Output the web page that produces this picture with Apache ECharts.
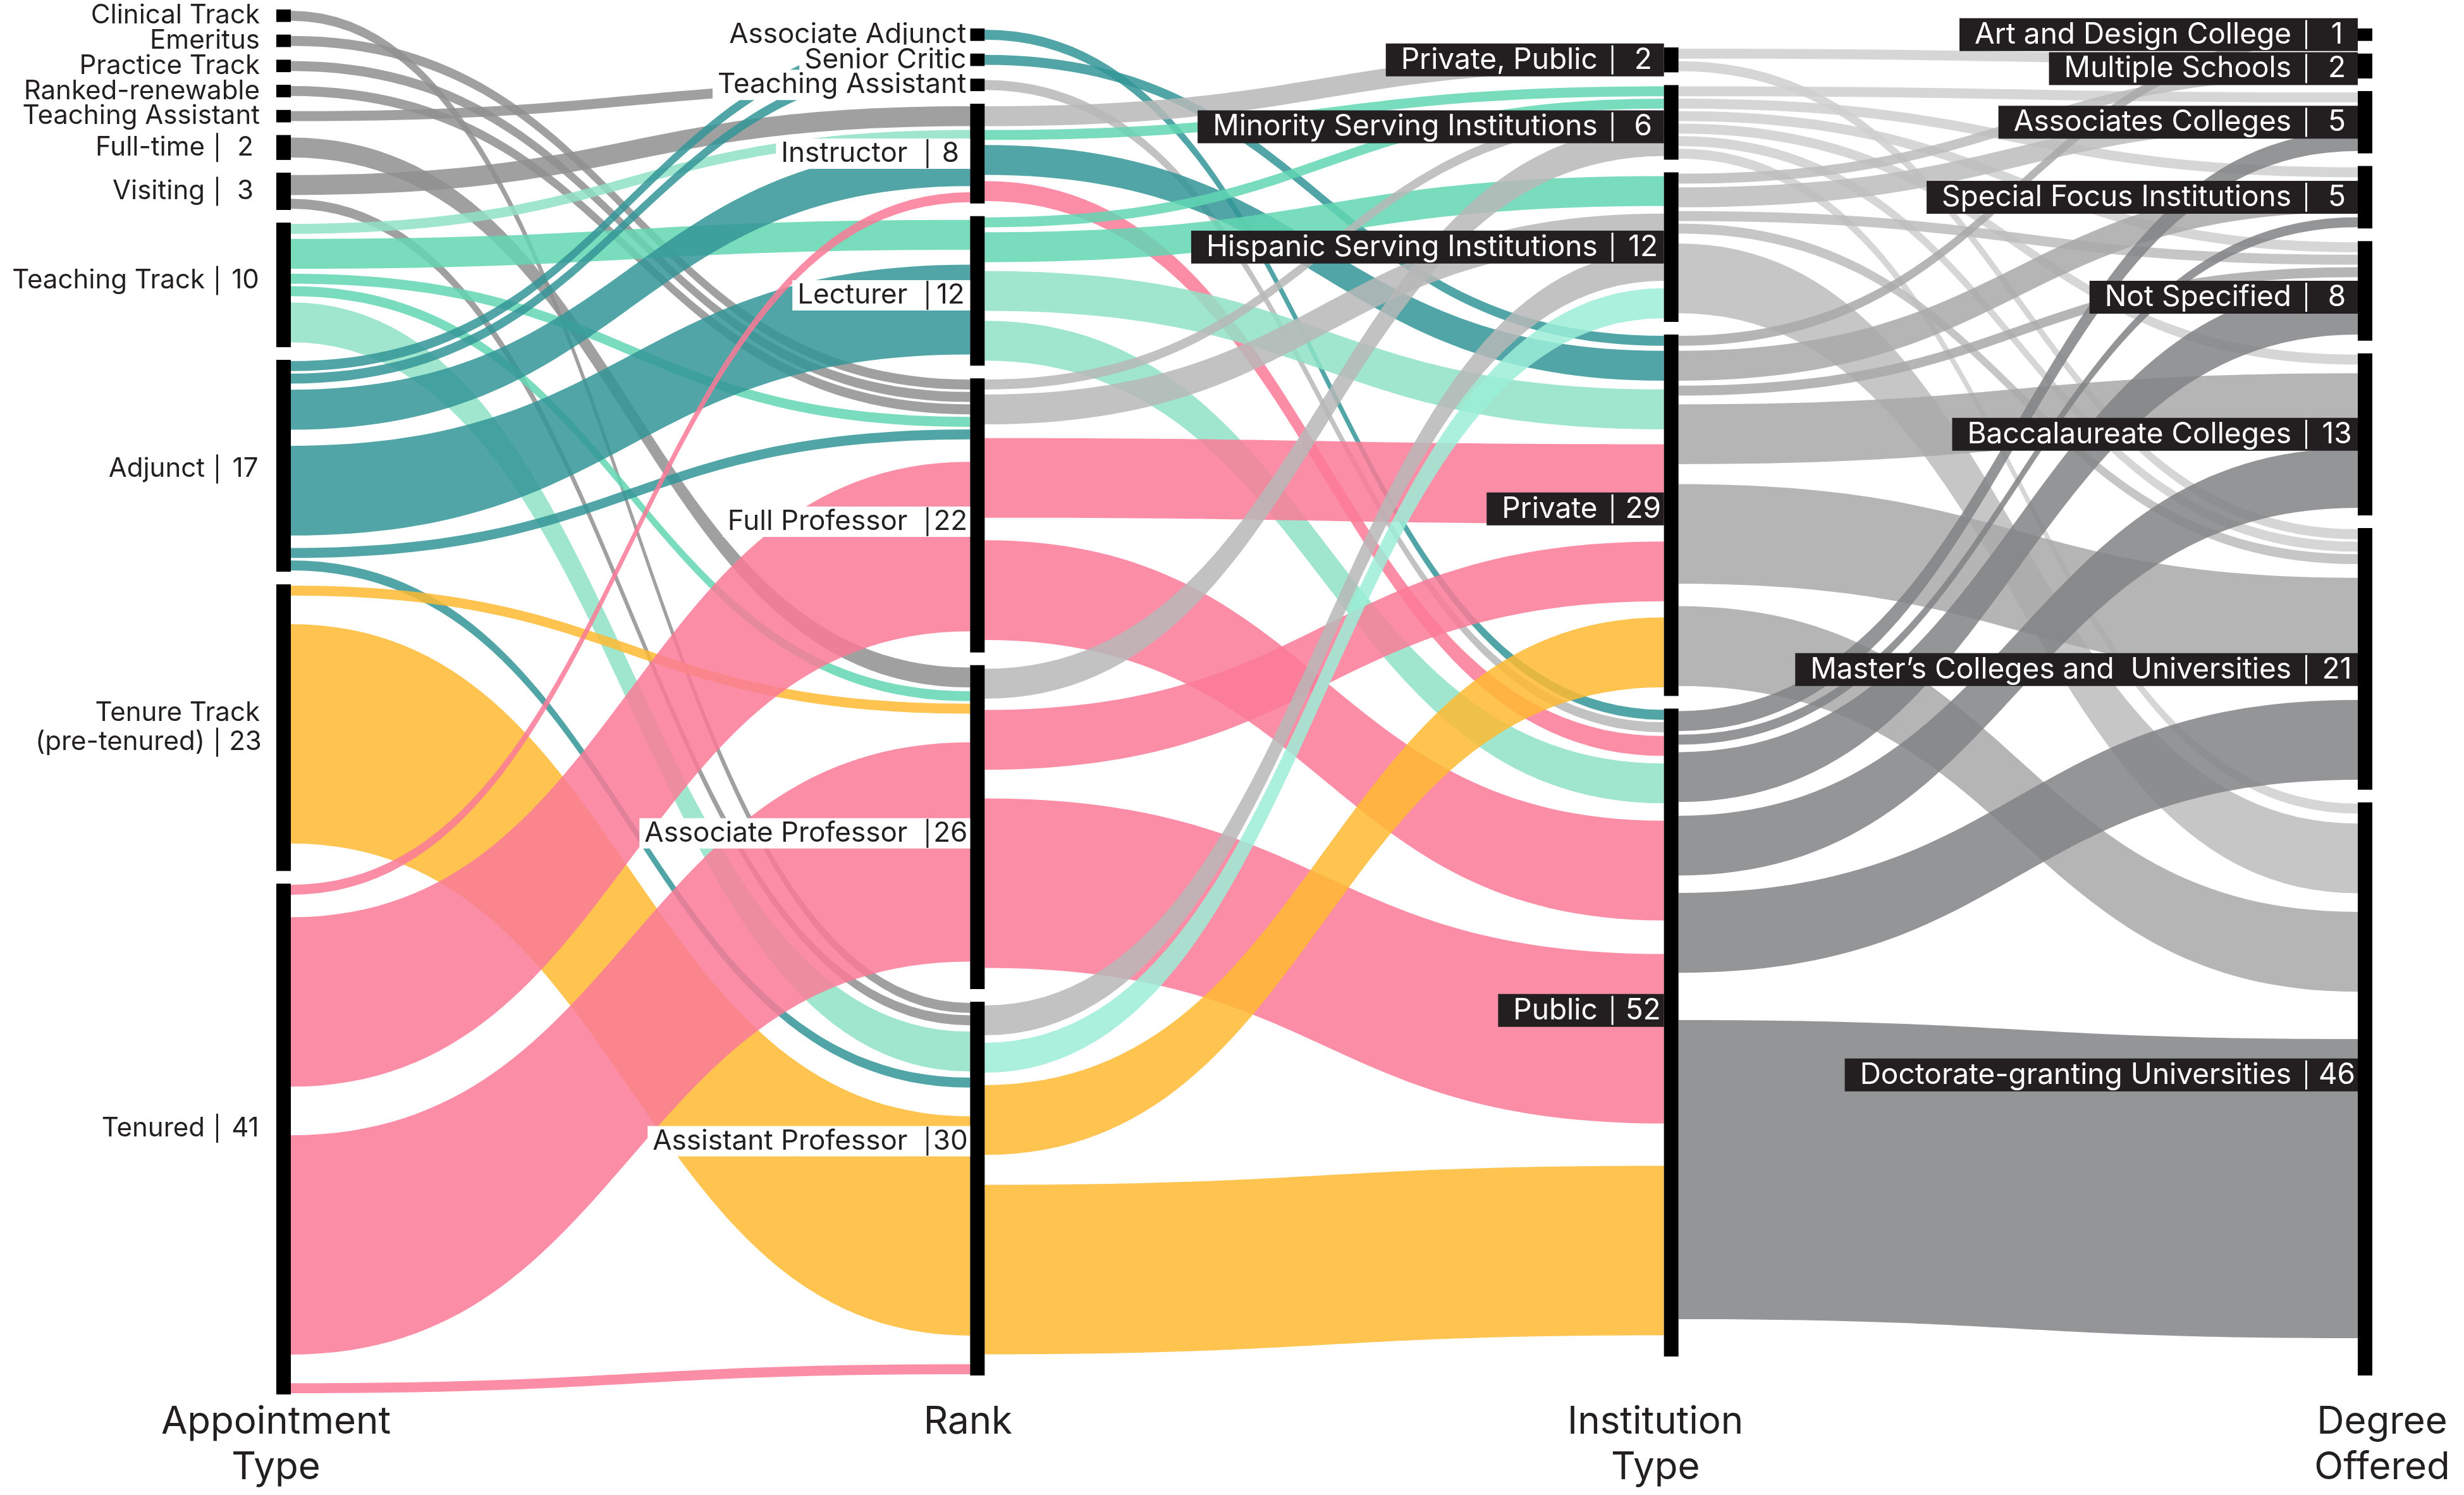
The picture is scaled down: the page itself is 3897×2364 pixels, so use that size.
<!DOCTYPE html>
<html>
<head>
<meta charset="utf-8">
<script src="https://cdn.jsdelivr.net/npm/echarts@6/dist/echarts.min.js"></script>
<style>
html,body{margin:0;padding:0;background:#ffffff;}
#chart{width:3897px;height:2364px;}
</style>
</head>
<body>
<div id="chart"></div>
<script>
// ---------------- DATA ----------------
const appointmentTypes = ['Clinical Track','Emeritus','Practice Track','Ranked-renewable','Teaching Assistant','Full-time','Visiting','Teaching Track','Adjunct','Tenure Track (pre-tenured)','Tenured'];
const appointmentTotals = [1,1,1,1,1,2,3,10,17,23,41];

const ranks = ['Associate Adjunct','Senior Critic','Teaching Assistant','Instructor','Lecturer','Full Professor','Associate Professor','Assistant Professor'];
const rankTotals = [1,1,1,8,12,22,26,30];

const institutionTypes = ['Private, Public','Minority Serving Institutions','Hispanic Serving Institutions','Private','Public'];
const institutionTotals = [2,6,12,29,52];

const degreesOffered = ['Art and Design College','Multiple Schools','Associates Colleges','Special Focus Institutions','Not Specified','Baccalaureate Colleges','Master’s Colleges and  Universities','Doctorate-granting Universities'];
const degreeTotals = [1,2,5,5,8,13,21,46];

const columnTitles = ['Appointment\nType','Rank','Institution\nType','Degree\nOffered'];

// Appointment Type -> Rank
const appointmentToRank = [
  ['Clinical Track','Assistant Professor',1],
  ['Emeritus','Full Professor',1],
  ['Practice Track','Full Professor',1],
  ['Ranked-renewable','Full Professor',1],
  ['Teaching Assistant','Teaching Assistant',1],
  ['Full-time','Associate Professor',2],
  ['Visiting','Instructor',2],
  ['Visiting','Assistant Professor',1],
  ['Teaching Track','Instructor',1],
  ['Teaching Track','Lecturer',3],
  ['Teaching Track','Full Professor',1],
  ['Teaching Track','Associate Professor',1],
  ['Teaching Track','Assistant Professor',4],
  ['Adjunct','Associate Adjunct',1],
  ['Adjunct','Senior Critic',1],
  ['Adjunct','Instructor',4],
  ['Adjunct','Lecturer',9],
  ['Adjunct','Full Professor',1],
  ['Adjunct','Assistant Professor',1],
  ['Tenure Track (pre-tenured)','Associate Professor',1],
  ['Tenure Track (pre-tenured)','Assistant Professor',22],
  ['Tenured','Instructor',1],
  ['Tenured','Full Professor',17],
  ['Tenured','Associate Professor',22],
  ['Tenured','Assistant Professor',1]
];

// Rank -> Institution Type
const rankToInstitution = [
  ['Associate Adjunct','Public',1],
  ['Senior Critic','Private',1],
  ['Teaching Assistant','Public',1],
  ['Instructor','Private, Public',2],
  ['Instructor','Minority Serving Institutions',1],
  ['Instructor','Private',3],
  ['Instructor','Public',2],
  ['Lecturer','Minority Serving Institutions',1],
  ['Lecturer','Hispanic Serving Institutions',3],
  ['Lecturer','Private',4],
  ['Lecturer','Public',4],
  ['Full Professor','Minority Serving Institutions',1],
  ['Full Professor','Hispanic Serving Institutions',3],
  ['Full Professor','Private',8],
  ['Full Professor','Public',10],
  ['Associate Professor','Minority Serving Institutions',3],
  ['Associate Professor','Private',6],
  ['Associate Professor','Public',17],
  ['Assistant Professor','Hispanic Serving Institutions',3],
  ['Assistant Professor','Hispanic Serving Institutions',3],
  ['Assistant Professor','Private',7],
  ['Assistant Professor','Public',17]
];

// Institution Type -> Degree Offered
const institutionToDegree = [
  ['Private, Public','Multiple Schools',1],
  ['Private, Public','Master’s Colleges and  Universities',1],
  ['Minority Serving Institutions','Associates Colleges',1],
  ['Minority Serving Institutions','Special Focus Institutions',1],
  ['Minority Serving Institutions','Not Specified',1],
  ['Minority Serving Institutions','Baccalaureate Colleges',1],
  ['Minority Serving Institutions','Master’s Colleges and  Universities',1],
  ['Minority Serving Institutions','Doctorate-granting Universities',1],
  ['Hispanic Serving Institutions','Multiple Schools',1],
  ['Hispanic Serving Institutions','Associates Colleges',2],
  ['Hispanic Serving Institutions','Not Specified',1],
  ['Hispanic Serving Institutions','Master’s Colleges and  Universities',1],
  ['Hispanic Serving Institutions','Doctorate-granting Universities',7],
  ['Private','Art and Design College',1],
  ['Private','Special Focus Institutions',3],
  ['Private','Not Specified',1],
  ['Private','Baccalaureate Colleges',6],
  ['Private','Master’s Colleges and  Universities',10],
  ['Private','Doctorate-granting Universities',8],
  ['Public','Associates Colleges',2],
  ['Public','Special Focus Institutions',1],
  ['Public','Not Specified',5],
  ['Public','Baccalaureate Colleges',6],
  ['Public','Master’s Colleges and  Universities',8],
  ['Public','Doctorate-granting Universities',30]
];

// ---------------- STYLES ----------------
const palette = {
  grey: '#8f8f8f', lightGrey: '#b7b7b7', teal: '#339597', mint: '#60d6b1',
  lightMint: '#8fe2c6', paleMint: '#9bedd7', pink: '#fa7a96', yellow: '#feba30',
  ppGrey: '#cfcfcf', minGrey: '#cfcfcf', hispGrey: '#bcbcbc', privGrey: '#a8a8a8', pubGrey: '#818285'
};
const appointmentToRankColors = [
  'grey','grey','grey','grey','grey','grey','grey','grey',
  'lightMint','mint','mint','mint','lightMint',
  'teal','teal','teal','teal','teal','teal',
  'yellow','yellow',
  'pink','pink','pink','pink'
];
const rankToInstitutionColors = [
  'teal','teal','lightGrey',
  'lightGrey','mint','teal','pink',
  'mint','mint','lightMint','lightMint',
  'lightGrey','lightGrey','pink','pink',
  'lightGrey','pink','pink',
  'lightGrey','paleMint','yellow','yellow'
];
const institutionColorKey = {
  'Private, Public':'ppGrey','Minority Serving Institutions':'minGrey',
  'Hispanic Serving Institutions':'hispGrey','Private':'privGrey','Public':'pubGrey'
};
// vertical label nudges (px) matching the reference's label placement
const labelNudge = {
  'A|Teaching Track': -7, 'A|Adjunct': 5, 'A|Tenured': -17,
  'R|Lecturer': 7, 'R|Full Professor': 10, 'R|Associate Professor': 10, 'R|Assistant Professor': -75,
  'I|Minority Serving Institutions': 7, 'I|Private': -10, 'I|Public': -35,
  'D|Multiple Schools': 4, 'D|Not Specified': 10, 'D|Master’s Colleges and  Universities': 17,
  'D|Doctorate-granting Universities': -22
};
const titleNudgeX = [-12, -15, -25, 27];

const LINK_OPACITY = 0.85;
const LINK_SHARE = 0.8;   // drawn share of each flow's band (rest left as spacing)
const INK = '#231f20';

const L = {left: 437, top: 15, width: 3315, height: 2190, nodeWidth: 23, nodeGap: 20};

// ---------------- BUILD ----------------
const columns = [
  {prefix: 'A|', names: appointmentTypes, totals: appointmentTotals, kind: 'a'},
  {prefix: 'R|', names: ranks, totals: rankTotals, kind: 'w'},
  {prefix: 'I|', names: institutionTypes, totals: institutionTotals, kind: 'd'},
  {prefix: 'D|', names: degreesOffered, totals: degreeTotals, kind: 'd'}
];
const sum = a => a.reduce((s, v) => s + v, 0);

// same value scale as the sankey layout uses
let ky = Infinity;
columns.forEach(c => {
  ky = Math.min(ky, (L.height - (c.names.length - 1) * L.nodeGap) / sum(c.totals));
});

const labelStyleByKind = {
  a: {position: 'left', distance: 26},
  w: {position: 'left', distance: 0, backgroundColor: '#ffffff', padding: [1, 6, 1, 8]},
  d: {position: 'left', distance: 0, backgroundColor: INK, padding: [3, 8, 3, 24]}
};

const nodes = [];
columns.forEach((c, ci) => {
  const colH = sum(c.totals) * ky + (c.names.length - 1) * L.nodeGap;
  let y = (L.height - colH) / 2;   // vertically centred column
  c.names.forEach((name, i) => {
    const id = c.prefix + name;
    const lab = Object.assign({}, labelStyleByKind[c.kind], {offset: [0, labelNudge[id] || 0]});
    nodes.push({name: id, value: c.totals[i], localY: y / L.height, label: lab});
    y += c.totals[i] * ky + L.nodeGap;
  });
});

const links = [];
function addLinks(srcPre, tgtPre, list, colorOf) {
  list.forEach((lk, i) => {
    const [s, t, v] = lk;
    const color = palette[colorOf(lk, i)];
    const pad = v * (1 - LINK_SHARE) / 2;
    const base = {source: srcPre + s, target: tgtPre + t};
    links.push(Object.assign({}, base, {value: pad, lineStyle: {color: color, opacity: 0}}));
    links.push(Object.assign({}, base, {value: v * LINK_SHARE, lineStyle: {color: color, opacity: LINK_OPACITY}}));
    links.push(Object.assign({}, base, {value: pad, lineStyle: {color: color, opacity: 0}}));
  });
}
addLinks('A|', 'R|', appointmentToRank, (lk, i) => appointmentToRankColors[i]);
addLinks('R|', 'I|', rankToInstitution, (lk, i) => rankToInstitutionColors[i]);
addLinks('I|', 'D|', institutionToDegree, (lk) => institutionColorKey[lk[0]]);

function richFor(k, fs, color, barColor, gap, gap2, vw) {
  const r = {};
  r['n' + k] = {fontSize: fs, fontFamily: 'Inter', color: color, lineHeight: 46};
  r['g' + k] = {width: gap, fontSize: 10};
  r['b' + k] = {width: 3, height: 46, backgroundColor: barColor, fontSize: 1};
  r['h' + k] = {width: gap2, fontSize: 10};
  r['v' + k] = {fontSize: fs, fontFamily: 'Inter', color: color, width: vw, align: 'left', lineHeight: 46};
  return r;
}
const rich = Object.assign({},
  richFor('a', 42, INK, INK, 18, 20, 46),
  richFor('w', 44, INK, INK, 30, 10, 50),
  richFor('d', 46, '#ffffff', '#ffffff', 22, 22, 50));

function formatLabel(p) {
  const pre = p.name.slice(0, 2);
  const ci = columns.findIndex(c => c.prefix === pre);
  const k = columns[ci].kind;
  const name = p.name.slice(2).replace(' (pre', '\n(pre');
  const lines = name.split('\n');
  const showValue = !(ci < 2 && p.value === 1);
  const out = lines.map((ln, i) => {
    let s = '{n' + k + '|' + ln + '}';
    if (i === lines.length - 1 && showValue) {
      s += '{g' + k + '| }{b' + k + '| }{h' + k + '| }{v' + k + '|' + p.value + '}';
    }
    return s;
  });
  return out.join('\n');
}

const colX = i => L.left + i * (L.width - L.nodeWidth) / 3 + L.nodeWidth / 2;

const chart = echarts.init(document.getElementById('chart'), null, {renderer: 'canvas'});
chart.setOption({
  backgroundColor: '#ffffff',
  animation: false,
  graphic: columnTitles.map((t, i) => ({
    type: 'text', x: colX(i) + titleNudgeX[i], y: 2213, silent: true,
    style: {text: t, fontSize: 60, fontFamily: 'Inter', fill: INK, align: 'center', verticalAlign: 'top', lineHeight: 72}
  })),
  series: [{
    type: 'sankey',
    left: L.left, top: L.top, width: L.width, height: L.height,
    nodeWidth: L.nodeWidth, nodeGap: L.nodeGap,
    layoutIterations: 0,
    nodeAlign: 'justify',
    draggable: false,
    emphasis: {disabled: true},
    itemStyle: {color: '#000000', borderWidth: 0, opacity: 1},
    lineStyle: {curveness: 0.5},
    label: {show: true, position: 'left', formatter: formatLabel, rich: rich, align: 'right'},
    data: nodes,
    links: links
  }]
});
</script>
</body>
</html>
